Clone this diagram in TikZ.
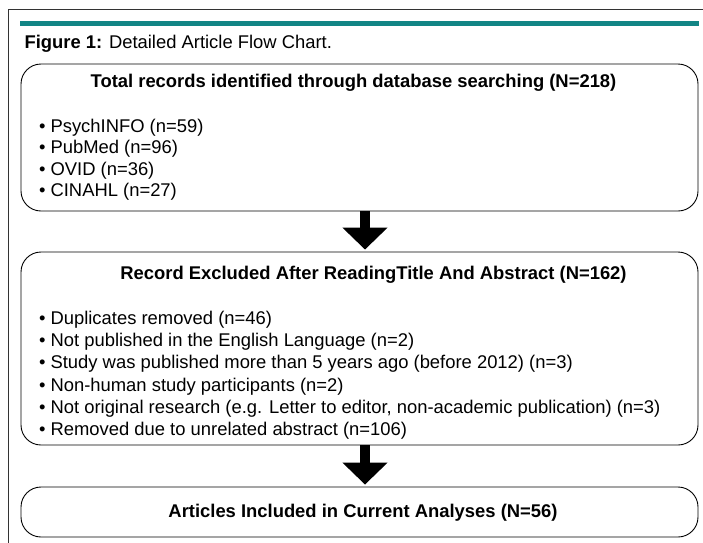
\documentclass[tikz,border=0pt]{standalone}
\usepackage{fontspec}
\setmainfont{Liberation Sans}
\usepackage{xcolor}
\definecolor{barcolor}{RGB}{18, 133, 133}
\definecolor{framecolor}{RGB}{51, 51, 51}
\usetikzlibrary{arrows.meta}
\newcommand{\figfont}{\fontsize{18.4}{22}\selectfont}

\tikzset{
  flowbox/.style={draw, rounded corners=20pt, line width=0.9pt,
    minimum width=677pt, inner sep=0pt},
  headtxt/.style={anchor=base, font=\figfont\bfseries},
  itemtxt/.style={anchor=base west, font=\figfont},
  fatarrow/.style={line width=10pt, -{Triangle[width=44pt,length=22pt]}},
}

\begin{document}
\begin{tikzpicture}[x=1pt,y=-1pt]
  \useasboundingbox (0,0) rectangle (703,542);
  % frame and caption
  \draw[framecolor, line width=1pt] (8.5,560) -- (8.5,9) -- (720,9);
  \fill[barcolor] (20,21) rectangle (699,25.5);
  \node[itemtxt] (caption) at (21,48.3) {\textbf{Figure 1:} Detailed Article Flow Chart.};

  % boxes
  \node[flowbox, minimum height=147pt] (total) at (359.5,137.5) {};
  \node[flowbox, minimum height=193pt] (excl) at (359.5,348.5) {};
  \node[flowbox, minimum height=50pt] (incl) at (359.5,512) {};

  \node[headtxt] (totalhead) at (353.5,87.5)
    {Total records identified through database searching (N=218)};
  \node[headtxt] (exclhead) at (373.5,279)
    {Record Excluded After ReadingTitle And Abstract (N=162)};
  \node[headtxt] (inclhead) at (363,517.5)
    {Articles Included in Current Analyses (N=56)};

  \foreach \txt [count=\i] in {PsychINFO (n=59), PubMed (n=96),
      OVID (n=36), CINAHL (n=27)}
    \node[itemtxt] (src-\i) at (35.5,{132+21.5*(\i-1)}) {\textbullet\ \txt};

  \foreach \txt [count=\i] in {Duplicates removed (n=46),
      Not published in the English Language (n=2),
      Study was published more than 5 years ago (before 2012) (n=3),
      Non-human study participants (n=2),
      {Not original research (e.g. Letter to editor, non-academic publication) (n=3)},
      Removed due to unrelated abstract (n=106)}
    \node[itemtxt] (rsn-\i) at (35.5,{324.3+22.3*(\i-1)}) {\textbullet\ \txt};

  % arrows
  \draw[fatarrow] ([xshift=5.5pt]total.south) -- ([xshift=5.5pt,yshift=2pt]excl.north);
  \draw[fatarrow] ([xshift=5.5pt]excl.south) -- ([xshift=5.5pt,yshift=2pt]incl.north);
\end{tikzpicture}
\end{document}
